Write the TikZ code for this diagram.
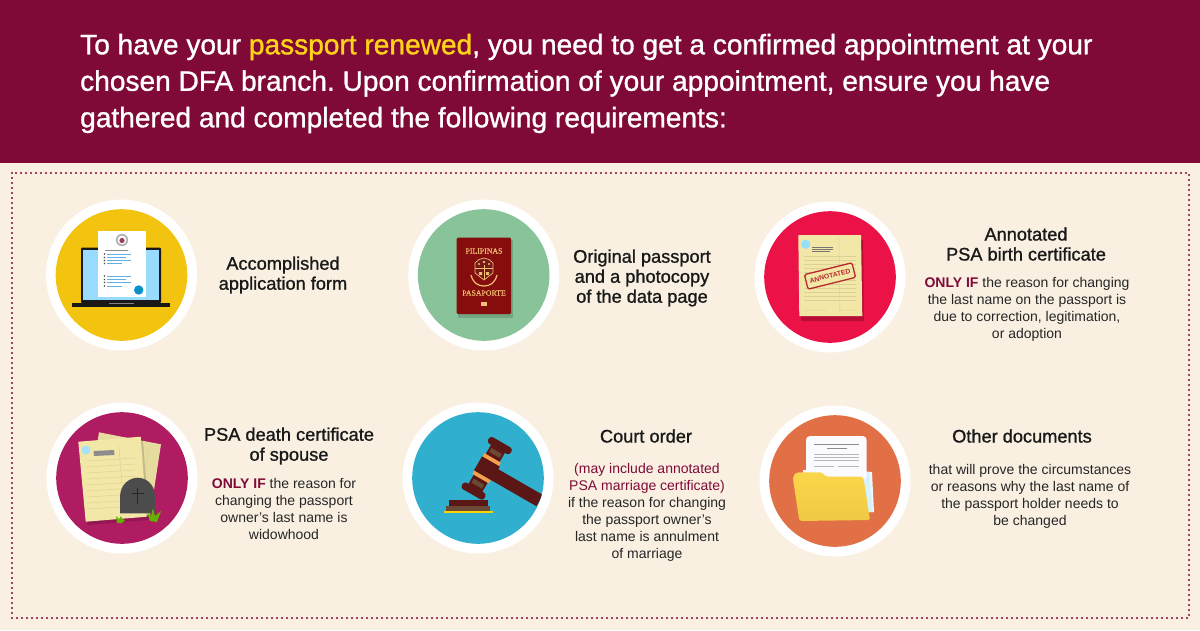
\documentclass[tikz,border=0pt]{standalone}
\usepackage{fontspec}
\setmainfont{Liberation Sans}
\newfontfamily\medfont[FakeBold=1.1]{Liberation Sans}
\newfontfamily\crestfont[FakeBold=0.5]{Liberation Serif}
\definecolor{wine}{HTML}{800A37}
\definecolor{cream}{HTML}{F9F0E2}
\definecolor{sunny}{HTML}{FFD31A}
\definecolor{oldpaper}{HTML}{F3E7A8}
\definecolor{paperline}{HTML}{DDD096}
\definecolor{formblue}{HTML}{5FB0E6}
\definecolor{gold}{HTML}{F2BE72}
\definecolor{gaveldark}{HTML}{5A1715}
\definecolor{gavelmid}{HTML}{6B4A35}
\definecolor{gavelstripe}{HTML}{F4A24E}
\definecolor{stamp}{HTML}{B5282C}
\definecolor{folderlight}{HTML}{FBD64B}
\definecolor{folderdark}{HTML}{EFC944}
\definecolor{ringyellow}{HTML}{F2C40F}
\definecolor{ringgreen}{HTML}{88C399}
\definecolor{ringred}{HTML}{EB1248}
\definecolor{ringmagenta}{HTML}{AF1C62}
\definecolor{ringblue}{HTML}{30AFCE}
\definecolor{ringorange}{HTML}{E27046}
\begin{document}
\frenchspacing
\begin{tikzpicture}[x=1pt,y=-1pt,
	head/.style={font={\medfont\fontsize{18.2}{20}\selectfont},align=center,text=black!90,inner sep=0pt},
	body/.style={font={\fontsize{14}{17}\selectfont},align=center,text=black!85,inner sep=0pt},
	title/.style={font={\medfont\fontsize{28.1}{36.5}\selectfont},align=left,text=white,inner sep=0pt,anchor=west},
	formline/.style={line width=1pt,formblue},
	docline/.style={line width=.5pt,paperline}]
\useasboundingbox (0,0) rectangle (1200,630);
\fill[cream] (0,0) rectangle (1200,630);
\fill[wine] (0,0) rectangle (1200,163);
\draw[wine,line width=2.1pt,line cap=round,dash pattern=on 0pt off 5pt] (12,173) rectangle (1189,618);

\def\ring at (#1,#2) with #3;{
	\fill[white] (#1,#2) circle (75.5);
	\fill[#3] (#1,#2) circle (65.8);
}
\ring at (121.5,275) with ringyellow;
\ring at (483.7,275) with ringgreen;
\ring at (830,277) with ringred;
\ring at (122,478) with ringmagenta;
\ring at (478,478) with ringblue;
\ring at (835,481) with ringorange;

% laptop
\fill[black!90,rounded corners=1pt] (81,247.7) rectangle (161,303);
\fill[blue!35!cyan!40!white] (83.3,250) rectangle (158.7,300);
\fill[black!90] (72.3,302.7) rectangle (170,307.3);
\fill[black!50] (109,302.7) rectangle (134,304.2);
\fill[white] (98.3,231) rectangle (146,296.7);
\fill[black!30] (122,240) circle (6.2);
\fill[white] (122,240) circle (4.4);
\fill[wine!80] (122,240.5) circle (2.6);
\draw[line width=.8pt,black!45] (105,250) -- (128,250);
\foreach \yy/\xx in {254/131,257.5/126,260.5/131,263.5/122,276/131,279.5/126,282.5/131,286/122}{
	\draw[formline] (107,\yy) -- (\xx,\yy);
	\fill[black!70] (104.5,\yy) circle (.8);
}
\fill[cyan!75!blue] (138.7,290) circle (4.7);
\draw[line width=.7pt,teal!70!green] (136.8,291) -- (138,292) -- (140.8,288);

% passport
\fill[black,opacity=.15] (458,240) rectangle (513,318);
\fill[red!50!black!95!white,rounded corners=1.2pt] (456.7,237.7) rectangle (511,314);
\node[text=gold,inner sep=0pt,font={\crestfont\fontsize{7.8}{8}\selectfont}] (pilipinas) at (484,251) {PILIPINAS};
\node[text=gold,inner sep=0pt,font={\crestfont\fontsize{7.8}{8}\selectfont}] (pasaporte) at (484,293) {PASAPORTE};
\draw[gold,line width=.7pt,fill=red!40!black!90!white] (475,263) -- (479,259.5) -- (484,258) -- (489,259.5) -- (493,263) -- (493,273) -- (484,280) -- (475,273) -- cycle;
\fill[gold] (479,264) circle (1.2) (489,264) circle (1.2) (484,262) circle (1.4) (479,272) rectangle (482,275) (486,272) rectangle (489,275);
\draw[gold,line width=.6pt] (484,265) -- (484,279) (475,268.5) -- (493,268.5);
\draw[gold,line width=1.2pt] (471,275) .. controls (473,283) and (478,286) .. (484,286) .. controls (490,286) and (495,283) .. (497,275);
\fill[gold] (480.7,301.5) rectangle (487.3,306);

% annotated certificate
\fill[black,opacity=.22] (800,240) -- (863,240) -- (864,321) -- (801,321) -- cycle;
\fill[oldpaper] (798.3,235) -- (861,235) -- (862.3,316) -- (799.3,316) -- cycle;
\fill[cyan!40!white] (805.7,244.3) circle (4.7);
\draw[line width=.7pt,black!55] (812,247) -- (833,247) (812,249) -- (833,249) (812,251) -- (830,251);
\foreach \yy in {256,260,264,268,272,276,280,284,288,292,296,300}{
	\draw[docline] (804,\yy) -- (856,\yy);
}
\draw[docline] (839,238) -- (840,313) (804,310) -- (826,310) (840,310) -- (856,310);
\begin{scope}[shift={(830,276)},rotate=14]
	\draw[stamp,line width=1.3pt,rounded corners=1.5pt,fill=oldpaper] (-24.5,-7.5) rectangle (24.5,7.5);
	\node[text=stamp,inner sep=0pt,rotate=14,font={\bfseries\fontsize{6.8}{8}\selectfont}] (annotatedstamp) at (0,0) {ANNOTATED};
\end{scope}

% death certificates and tombstone
\fill[oldpaper!95!black] (99,432.3) -- (161,444.3) -- (150,516) -- (88,504) -- cycle;
\draw[docline] (148,449) -- (143,498);
\fill[black,opacity=.15] (80,445) -- (143,440) -- (149,520) -- (88,525) -- cycle;
\fill[oldpaper] (78.3,441.7) -- (140.7,436.7) -- (146.7,516.7) -- (85.7,521.7) -- cycle;
\fill[cyan!35!white] (86,450) circle (4.5);
\fill[black!45] (93.5,451) -- (114,450) -- (114.5,455) -- (94,456) -- cycle;
\foreach \yy in {0,6,...,48}{
	\draw[docline] (87,461+\yy) -- (136,458+\yy);
}
\draw[docline] (119,446) -- (124,512);
\fill[black!70] (120,513.3) -- (120,497) .. controls (120,484) and (130,477.7) .. (137.5,477.7) .. controls (146,477.7) and (155,484) .. (155,497) -- (155,513.3) -- cycle;
\draw[black!85,line width=1.2pt] (137.7,488) -- (137.7,504) (132,493.5) -- (143.5,493.5);
\fill[green!45!yellow!70!black] (150,521) -- (147,512) -- (151,516) -- (153,508) -- (155,516) -- (161,511) -- (157,522) -- cycle;
\fill[green!45!yellow!70!black] (117,523) -- (116,516) -- (119,519) -- (121,516) -- (122,519) -- (125,520) -- (122,523) -- cycle;

% gavel
\begin{scope}
	\clip (478,478) circle (65.8);
	\begin{scope}[shift={(486.7,468.3)},rotate=-30]
		\fill[gaveldark] (0,-5) rectangle (62,8);
	\end{scope}
\end{scope}
\begin{scope}[shift={(486.7,468.3)},rotate=-30]
	\fill[gaveldark,rounded corners=3pt] (-13,-30) rectangle (13,-22.5);
	\fill[gaveldark,rounded corners=3pt] (-13,22.5) rectangle (13,30);
	\fill[gaveldark] (-8,-23) rectangle (8,23);
	\fill[gavelmid] (-6,-20) rectangle (6,-15.5);
	\fill[gavelmid] (-6,15.5) rectangle (6,20);
	\fill[gavelstripe] (-9.5,-12) rectangle (9.5,-8);
	\fill[gavelstripe] (-9.5,8) rectangle (9.5,12);
	\fill[gaveldark] (-10,-8) rectangle (10.5,8);
\end{scope}
\fill[gaveldark] (449.3,500.3) rectangle (487.7,505.5);
\fill[gavelmid] (446,505.5) rectangle (490,510.7);
\fill[yellow!70!orange] (444,510.7) rectangle (493,513.3);

% folder
\fill[cyan!8!white] (803,470) -- (872,472) -- (874,512) -- (803,512) -- cycle;
\fill[cyan!16!white] (862,470.5) -- (869,472) -- (873,512) -- (866,512) -- cycle;
\fill[black!6!blue!2!white,rounded corners=4pt] (806,436) rectangle (866.7,480);
\draw[line width=1.8pt,black!45] (814,444.5) -- (859.3,444.5);
\draw[line width=1.3pt,black!45] (826.7,448.3) -- (846.7,448.3);
\foreach \yy in {454.3,457.3,460.3}{
	\draw[line width=1.1pt,black!28] (814,\yy) -- (859.3,\yy);
}
\draw[line width=1.1pt,black!28] (814,466.7) -- (834.3,466.7) (838.3,466.7) -- (859.3,466.7);
\path[top color=folderlight,bottom color=folderdark,rounded corners=2pt] (792.7,476.7) -- (796.7,472.3) -- (821.7,472.3) -- (826,476.7) -- (863.3,476.7) -- (870,520) -- (799.3,521) -- cycle;

\node[title] (headline) at (80,83.5) {To have your {\color{sunny}passport renewed}, you need to get a confirmed appointment at your\\chosen DFA branch. Upon confirmation of your appointment, ensure you have\\gathered and completed the following requirements:};

\node[head] (formhead) at (283,275) {Accomplished\\application form};
\node[head] (passporthead) at (642,278) {Original passport\\and a photocopy\\of the data page};
\node[head] (birthhead) at (1026,244) {Annotated\\PSA birth certificate};
\node[body] (birthbody) at (1027,309.5) {{\bfseries\color{wine}ONLY IF} the reason for changing\\the last name on the passport is\\due to correction, legitimation,\\or adoption};
\node[head] (deathhead) at (289,446) {PSA death certificate\\of spouse};
\node[body] (deathbody) at (284,508.5) {{\bfseries\color{wine}ONLY IF} the reason for\\changing the passport\\owner's last name is\\widowhood};
\node[head] (courthead) at (646,436) {Court order};
\node[body] (courtbody) at (647,512.5) {{\color{wine}(may include annotated}\\{\color{wine}PSA marriage certificate)}\\if the reason for changing\\the passport owner's\\last name is annulment\\of marriage};
\node[head] (otherhead) at (1022,436) {Other documents};
\node[body] (otherbody) at (1030,496.5) {that will prove the circumstances\\or reasons why the last name of\\the passport holder needs to\\be changed};
\end{tikzpicture}
\end{document}
